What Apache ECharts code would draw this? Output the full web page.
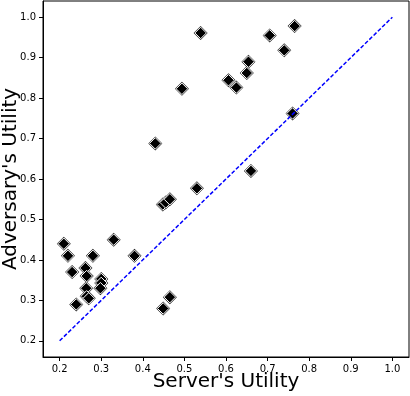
<!DOCTYPE html>
<html>
<head>
<meta charset="utf-8">
<script src="https://cdn.jsdelivr.net/npm/echarts@6/dist/echarts.min.js"></script>
<style>
  html, body { margin: 0; padding: 0; background: #fff; }
  #chart { width: 410px; height: 396px; }
</style>
</head>
<body>
<div id="chart"></div>
<script>
// server's utility (x) and adversary's utility (y), one entry per run
const serverUtil = [0.21, 0.22, 0.23, 0.24, 0.262, 0.265, 0.264, 0.265, 0.27, 0.28,
  0.30, 0.30, 0.298, 0.33, 0.38, 0.449, 0.465, 0.448, 0.455, 0.465,
  0.53, 0.43, 0.494, 0.539, 0.765, 0.705, 0.74, 0.654, 0.65, 0.606,
  0.625, 0.76, 0.66]
const adversaryUtil = [0.44, 0.41, 0.37, 0.29, 0.38, 0.36, 0.33, 0.31, 0.305, 0.41,
  0.353, 0.343, 0.33, 0.45, 0.41, 0.28, 0.308, 0.537, 0.542, 0.55,
  0.577, 0.688, 0.823, 0.961, 0.978, 0.955, 0.918, 0.89, 0.862, 0.844,
  0.826, 0.762, 0.62]
// y = x reference line
const diagX = [0.2, 1.0]
const diagY = [0.2, 1.0]
const tickValues = [0.2, 0.3, 0.4, 0.5, 0.6, 0.7, 0.8, 0.9, 1.0]

const points = serverUtil.map((x, i) => [x, adversaryUtil[i]])
const diag = diagX.map((x, i) => [x, diagY[i]])

const font = 'DejaVu Sans'

function axis(name, gap) {
  return {
    type: 'value',
    min: 0.16,
    max: 1.04,
    name: name,
    nameLocation: 'middle',
    nameGap: gap,
    nameMoveOverlap: false,
    nameTextStyle: { fontFamily: font, fontSize: 20, color: '#000' },
    splitLine: { show: false },
    axisLine: { show: true, onZero: false, lineStyle: { color: '#000', width: 1 } },
    axisTick: { show: true, inside: false, length: 4, customValues: tickValues,
      lineStyle: { color: '#000', width: 1 } },
    axisLabel: { show: true, fontFamily: font, fontSize: 10, color: '#000', margin: 7,
      customValues: tickValues,
      formatter: v => v.toFixed(1) }
  }
}

const option = {
  backgroundColor: '#fff',
  animation: false,
  grid: {
    left: 43,
    right: 1,
    top: 1,
    bottom: 39,
    outerBoundsMode: 'none',
    containLabel: false,
    show: true,
    borderColor: '#000',
    borderWidth: 1
  },
  xAxis: axis("Server's Utility", 15),
  yAxis: axis("Adversary's Utility", 22),
  series: [
    {
      // dark outer edge of the markers
      type: 'scatter',
      symbol: 'diamond',
      symbolSize: 14,
      data: points,
      itemStyle: { color: '#222', opacity: 1 },
      z: 2
    },
    {
      type: 'scatter',
      symbol: 'diamond',
      symbolSize: 11.5,
      data: points,
      itemStyle: { color: '#000', borderColor: '#fff', borderWidth: 1, opacity: 1 },
      z: 3
    },
    {
      type: 'line',
      data: diag,
      symbol: 'none',
      lineStyle: { color: '#0000ff', width: 1.5, type: [4, 2] },
      z: 4
    }
  ]
}

const chart = echarts.init(document.getElementById('chart'))
chart.setOption(option)
</script>
</body>
</html>
